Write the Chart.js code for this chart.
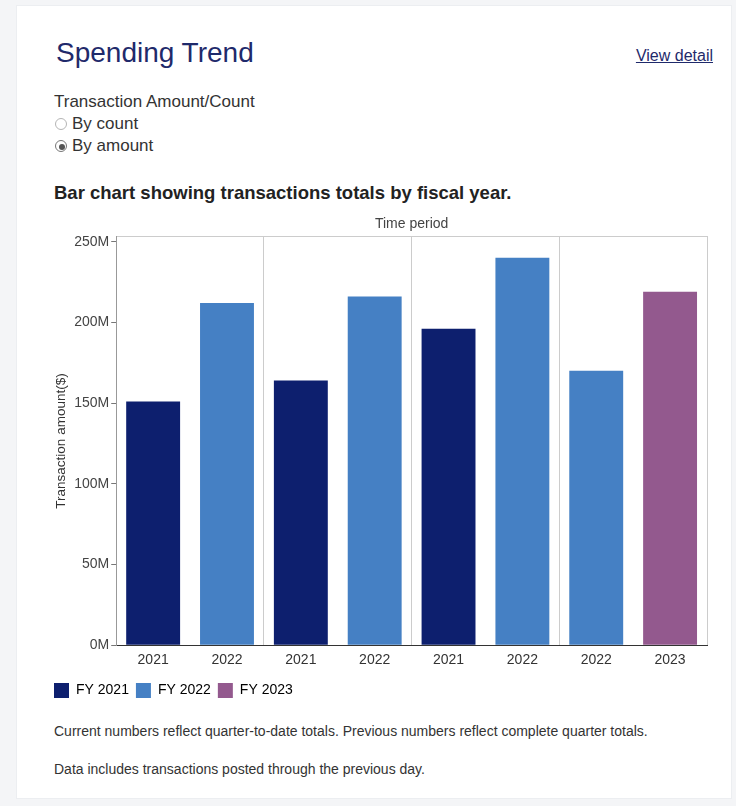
<!DOCTYPE html>
<html>
<head>
<meta charset="utf-8">
<title>Spending Trend</title>
<script src="https://cdn.jsdelivr.net/npm/chart.js@4.4.1/dist/chart.umd.min.js"></script>
<style>
  body {
    margin: 0;
    background: #f4f5f7;
    font-family: "Liberation Sans", Arial, sans-serif;
    color: #333;
  }
  .card {
    position: absolute;
    left: 16px;
    top: 5px;
    width: 714px;
    height: 792px;
    background: #fff;
    border: 1px solid #eceef1;
  }
  .card-title {
    position: absolute;
    left: 39px;
    top: 33px;
    margin: 0;
    font-size: 28px;
    line-height: 28px;
    font-weight: normal;
    color: #1f2a6b;
  }
  .view-detail {
    position: absolute;
    right: 18px;
    top: 41px;
    font-size: 16px;
    line-height: 18px;
    color: #1f2a6b;
    text-decoration: underline;
  }
  .toggle {
    position: absolute;
    left: 37px;
    top: 85px;
    font-size: 17px;
    line-height: 22px;
  }
  .toggle label {
    display: block;
    margin-left: 1px;
  }
  .toggle input {
    appearance: none;
    width: 12px;
    height: 12px;
    margin: 0 5px 0 0;
    border: 1px solid #b5b5b5;
    border-radius: 50%;
    vertical-align: -1px;
    position: relative;
  }
  .toggle input:checked {
    border-color: #777;
  }
  .toggle input:checked::after {
    content: "";
    position: absolute;
    left: 3px;
    top: 3px;
    width: 6px;
    height: 6px;
    border-radius: 50%;
    background: #555;
  }
  .chart-heading {
    position: absolute;
    left: 37px;
    top: 177px;
    margin: 0;
    font-size: 18.5px;
    line-height: 20px;
    font-weight: bold;
    color: #222;
  }
  .chart-box {
    position: absolute;
    left: 23px;
    top: 205px;
    width: 671px;
    height: 497px;
  }
  .note {
    position: absolute;
    left: 37px;
    margin: 0;
    font-size: 14px;
    line-height: 16px;
    color: #333;
  }
</style>
</head>
<body>
<div class="card">
  <h2 class="card-title">Spending Trend</h2>
  <a class="view-detail">View detail</a>

  <div class="toggle">
    <div>Transaction Amount/Count</div>
    <label><input type="radio" name="mode" value="count">By count</label>
    <label><input type="radio" name="mode" value="amount" checked>By amount</label>
  </div>

  <h3 class="chart-heading">Bar chart showing transactions totals by fiscal year.</h3>

  <div class="chart-box">
    <canvas id="trendChart"></canvas>
  </div>

  <p class="note" style="top:717px">Current numbers reflect quarter-to-date totals. Previous numbers reflect complete quarter totals.</p>
  <p class="note" style="top:755px">Data includes transactions posted through the previous day.</p>
</div>

<script>
// one bar per period, two periods per quarter
const periodYears = ['2021', '2022', '2021', '2022', '2021', '2022', '2022', '2023'];
const amountsM = [151, 212, 164, 216, 196, 240, 170, 219];   // transaction amount, millions of $
const fiscalYears = ['2021', '2022', '2023'];
const yTicksM = [0, 50, 100, 150, 200, 250];

const yearColors = {
    '2021': '#0d1f6e',
    '2022': '#4580c4',
    '2023': '#93598e'
};

const fontFamily = '"Liberation Sans", Arial, sans-serif';

const ctx = document.getElementById('trendChart').getContext('2d');

new Chart(ctx, {
    type: 'bar',
    data: {
        labels: periodYears,
        datasets: [{
            label: 'Transaction amount',
            data: amountsM,
            backgroundColor: periodYears.map(y => yearColors[y]),
            borderWidth: 0,
            barPercentage: 0.73,
            categoryPercentage: 1
        }]
    },
    options: {
        responsive: true,
        maintainAspectRatio: false,
        animation: false,
        layout: {
            padding: { left: 7, right: 4, top: 1, bottom: 0 }
        },
        plugins: {
            tooltip: { enabled: false },
            legend: {
                position: 'bottom',
                align: 'start',
                onClick: null,
                labels: {
                    boxWidth: 15,
                    boxHeight: 15,
                    padding: 7,
                    color: '#333',
                    font: { family: fontFamily, size: 14 },
                    generateLabels: () => fiscalYears.map(y => ({
                        text: 'FY ' + y,
                        fillStyle: yearColors[y],
                        strokeStyle: yearColors[y],
                        lineWidth: 0
                    }))
                }
            }
        },
        scales: {
            x: {
                grid: {
                    // separators between quarters, plus the right edge
                    color: (c) => {
                        if (c.index === undefined) return '#cccccc';
                        return (c.index > 0 && c.index % 2 === 0) ? '#cccccc' : 'rgba(0,0,0,0)';
                    },
                    drawTicks: false
                },
                border: { color: '#333', width: 1 },
                ticks: {
                    color: '#333',
                    padding: 7,
                    font: { family: fontFamily, size: 14 }
                }
            },
            xTop: {
                position: 'top',
                grid: { display: false, drawTicks: false },
                border: { display: true, color: '#cccccc' },
                ticks: { display: false },
                title: {
                    display: true,
                    text: 'Time period',
                    color: '#444',
                    padding: { top: 4, bottom: 4 },
                    font: { family: fontFamily, size: 14 }
                }
            },
            y: {
                min: 0,
                max: 253,
                grid: {
                    drawOnChartArea: false,
                    tickLength: 5,
                    color: '#777'
                },
                border: { color: '#999', width: 1 },
                ticks: {
                    stepSize: 50,
                    includeBounds: false,
                    padding: 2,
                    color: '#444',
                    font: { family: fontFamily, size: 14 },
                    callback: (v) => yTicksM.includes(v) ? v + 'M' : ''
                },
                title: {
                    display: true,
                    text: 'Transaction amount($)',
                    color: '#333',
                    padding: { top: 6, bottom: 3 },
                    font: { family: fontFamily, size: 13.5 }
                }
            }
        }
    }
});
</script>
</body>
</html>
